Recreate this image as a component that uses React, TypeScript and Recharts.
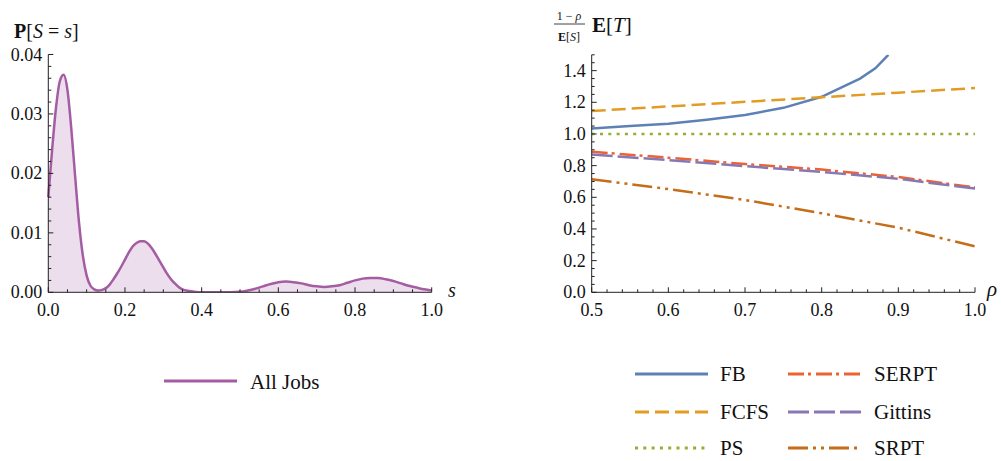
import React from "react";
import { ComposedChart, LineChart, Line, Area, XAxis, YAxis } from "recharts";

const FONT = "Liberation Serif";
const AXIS = "#222";

// left panel: size distribution P[S = s]
const sizeS = [
  0, 0.01, 0.02, 0.03, 0.04, 0.05, 0.06, 0.07, 0.08, 0.09, 0.1, 0.11, 0.12, 0.13, 0.14, 0.15, 0.16, 0.17, 0.18, 0.19,
  0.2, 0.21, 0.22, 0.23, 0.24, 0.25, 0.26, 0.27, 0.28, 0.29, 0.3, 0.31, 0.32, 0.33, 0.34, 0.35, 0.36, 0.38, 0.4, 0.45,
  0.5, 0.52, 0.54, 0.56, 0.58, 0.6, 0.62, 0.64, 0.66, 0.68, 0.7, 0.72, 0.74, 0.76, 0.78, 0.8, 0.82, 0.84, 0.86, 0.88,
  0.9, 0.92, 0.94, 0.96, 0.98, 1.0,
];
const sizeP = [
  0.016, 0.024, 0.031, 0.0355, 0.0366, 0.034, 0.0275, 0.0195, 0.0118, 0.0062, 0.0028, 0.0011, 0.0005, 0.0003, 0.0004, 0.0007, 0.0013, 0.0022, 0.0032, 0.0043,
  0.0055, 0.0067, 0.0077, 0.0083, 0.0086, 0.0086, 0.0082, 0.0074, 0.0064, 0.0053, 0.0042, 0.0031, 0.0022, 0.0015, 0.0009, 0.0005, 0.0003, 0.0001, 0, 0,
  0.0001, 0.0003, 0.0006, 0.001, 0.0014, 0.0017, 0.0018, 0.0017, 0.0015, 0.0012, 0.001, 0.0009, 0.001, 0.0012, 0.0016, 0.002, 0.0023, 0.0024, 0.0024, 0.0022,
  0.0019, 0.0015, 0.0011, 0.0008, 0.0005, 0.0003,
];

// right panel: normalised mean response time vs load
const rhoFB = [0.5, 0.55, 0.6, 0.65, 0.7, 0.75, 0.8, 0.85, 0.87, 0.887];
const fbVals = [1.035, 1.05, 1.065, 1.09, 1.12, 1.165, 1.235, 1.35, 1.415, 1.5];
const rhoGrid = [0.5, 0.6, 0.7, 0.8, 0.9, 1.0];
const fcfsVals = [1.145, 1.174, 1.203, 1.232, 1.261, 1.29];
const psVals = [1, 1, 1, 1, 1, 1];
const serptVals = [0.888, 0.85, 0.81, 0.775, 0.728, 0.662];
const gittinsVals = [0.87, 0.835, 0.797, 0.76, 0.717, 0.655];
const srptVals = [0.714, 0.652, 0.583, 0.499, 0.408, 0.29];

const leftXTicks = [0, 0.2, 0.4, 0.6, 0.8, 1.0];
const leftYTicks = [0, 0.01, 0.02, 0.03, 0.04];
const rightXTicks = [0.5, 0.6, 0.7, 0.8, 0.9, 1.0];
const rightYTicks = [0, 0.2, 0.4, 0.6, 0.8, 1.0, 1.2, 1.4];

const series = [
  { name: "FB", xs: rhoFB, ys: fbVals, color: "#5E81B5", dash: undefined },
  { name: "FCFS", xs: rhoGrid, ys: fcfsVals, color: "#E19C24", dash: "14 6" },
  { name: "PS", xs: rhoGrid, ys: psVals, color: "#8FB032", dash: "3 5.3" },
  { name: "SERPT", xs: rhoGrid, ys: serptVals, color: "#EB6235", dash: "16 4 3 5" },
  { name: "Gittins", xs: rhoGrid, ys: gittinsVals, color: "#8778B3", dash: "21 5" },
  { name: "SRPT", xs: rhoGrid, ys: srptVals, color: "#C56E1A", dash: "20 5 3 5 3 5" },
];

const sizeData = sizeS.map((s, i) => ({ x: s, p: sizeP[i] }));

// majors plus evenly spaced minor ticks (Mathematica style)
function withMinor(from: number, to: number, step: number, majors: number[]) {
  const out: number[] = [...majors];
  const n = Math.round((to - from) / step);
  for (let i = 0; i <= n; i++) {
    const v = +(from + i * step).toFixed(6);
    if (!out.some((m) => Math.abs(m - v) < 1e-9)) out.push(v);
  }
  return out.sort((a, b) => a - b);
}

const isIn = (arr: number[], v: number) => arr.some((m) => Math.abs(m - v) < 1e-9);

function makeYTick(majors: number[], digits: number) {
  return (props: any) => {
    const { x, y, payload } = props;
    const major = isIn(majors, payload.value);
    return (
      <g>
        <line x1={x} y1={y} x2={x + (major ? 5 : 3)} y2={y} stroke={AXIS} strokeWidth={1} />
        {major && (
          <text x={x - 6} y={y + 6} textAnchor="end" fontSize={18} style={{ fontFamily: FONT }} fill="#111">
            {payload.value.toFixed(digits)}
          </text>
        )}
      </g>
    );
  };
}

function makeXTick(majors: number[]) {
  return (props: any) => {
    const { x, y, payload } = props;
    const major = isIn(majors, payload.value);
    return (
      <g>
        <line x1={x} y1={y} x2={x} y2={y - (major ? 5 : 3)} stroke={AXIS} strokeWidth={1} />
        {major && (
          <text x={x} y={y + 24} textAnchor="middle" fontSize={18} style={{ fontFamily: FONT }} fill="#111">
            {payload.value.toFixed(1)}
          </text>
        )}
      </g>
    );
  };
}

export default function App() {
  return (
    <div style={{ position: "absolute", left: 0, top: 0, width: 1001, height: 461, background: "#fff", fontFamily: FONT }}>
      {/* Size distribution */}
      <div style={{ position: "absolute", left: 0, top: 0 }}>
        <ComposedChart width={460} height={320} data={sizeData} margin={{ top: 54.5, right: 28.3, bottom: 7.7, left: 8.3 }}>
          <XAxis
            dataKey="x"
            type="number"
            domain={[0, 1]}
            ticks={withMinor(0, 1, 0.05, leftXTicks)}
            interval={0}
            height={20}
            tickSize={0}
            tickMargin={0}
            tickLine={false}
            axisLine={{ stroke: AXIS }}
            tick={makeXTick(leftXTicks)}
          />
          <YAxis
            type="number"
            domain={[0, 0.04]}
            allowDataOverflow
            ticks={withMinor(0, 0.04, 0.002, leftYTicks)}
            interval={0}
            width={40}
            tickSize={0}
            tickMargin={0}
            tickLine={false}
            axisLine={{ stroke: AXIS }}
            tick={makeYTick(leftYTicks, 2)}
          />
          <Area
            type="monotone"
            dataKey="p"
            stroke="#A45CA3"
            strokeWidth={2.5}
            fill="#A45CA3"
            fillOpacity={0.2}
            isAnimationActive={false}
            dot={false}
            activeDot={false}
          />
        </ComposedChart>
      </div>

      {/* Normalised response time */}
      <div style={{ position: "absolute", left: 540, top: 0 }}>
        <LineChart width={461} height={320} margin={{ top: 54.8, right: 26, bottom: 7.7, left: 11.7 }}>
          <XAxis
            dataKey="x"
            type="number"
            domain={[0.5, 1]}
            allowDataOverflow
            ticks={withMinor(0.5, 1, 0.02, rightXTicks)}
            interval={0}
            height={20}
            tickSize={0}
            tickMargin={0}
            tickLine={false}
            axisLine={{ stroke: AXIS }}
            tick={makeXTick(rightXTicks)}
          />
          <YAxis
            type="number"
            domain={[0, 1.5]}
            allowDataOverflow
            ticks={withMinor(0, 1.5, 0.05, rightYTicks)}
            interval={0}
            width={40}
            tickSize={0}
            tickMargin={0}
            tickLine={false}
            axisLine={{ stroke: AXIS }}
            tick={makeYTick(rightYTicks, 1)}
          />
          {series.map((s) => (
            <Line
              key={s.name}
              data={s.xs.map((x, i) => ({ x, y: s.ys[i] }))}
              dataKey="y"
              type="linear"
              stroke={s.color}
              strokeWidth={2.5}
              strokeDasharray={s.dash}
              dot={false}
              activeDot={false}
              isAnimationActive={false}
            />
          ))}
        </LineChart>
      </div>

      {/* axis labels and legends */}
      <svg width={1001} height={461} style={{ position: "absolute", left: 0, top: 0, pointerEvents: "none", fontFamily: FONT }} fill="#111">
        <text x={14} y={38} fontSize={20}>
          <tspan fontWeight="bold">P</tspan>[<tspan fontStyle="italic">S</tspan> = <tspan fontStyle="italic">s</tspan>]
        </text>
        <text x={448} y={297} fontSize={20} fontStyle="italic">s</text>

        <text x={569} y={20} fontSize={12} textAnchor="middle">
          1 − <tspan fontStyle="italic">ρ</tspan>
        </text>
        <line x1={554} y1={24} x2={585} y2={24} stroke="#111" strokeWidth={0.8} />
        <text x={569} y={41} fontSize={12} textAnchor="middle">
          <tspan fontWeight="bold">E</tspan>[<tspan fontStyle="italic">S</tspan>]
        </text>
        <text x={592} y={32} fontSize={21}>
          <tspan fontWeight="bold">E</tspan>[<tspan fontStyle="italic">T</tspan>]
        </text>
        <text x={987} y={296} fontSize={21} fontStyle="italic">ρ</text>

        <line x1={164} y1={381} x2={237} y2={381} stroke="#A45CA3" strokeWidth={3} />
        <text x={250} y={389} fontSize={21}>All Jobs</text>

        {series.map((s, i) => {
          const col = Math.floor(i / 3);
          const row = i % 3;
          const y = [374, 412, 448][row];
          const lx = col === 0 ? 635 : 788;
          const tx = col === 0 ? 720 : 874;
          return (
            <g key={s.name}>
              <line x1={lx} y1={y} x2={lx + 73} y2={y} stroke={s.color} strokeWidth={3} strokeDasharray={s.dash} />
              <text x={tx} y={y + 7} fontSize={21}>{s.name}</text>
            </g>
          );
        })}
      </svg>
    </div>
  );
}
